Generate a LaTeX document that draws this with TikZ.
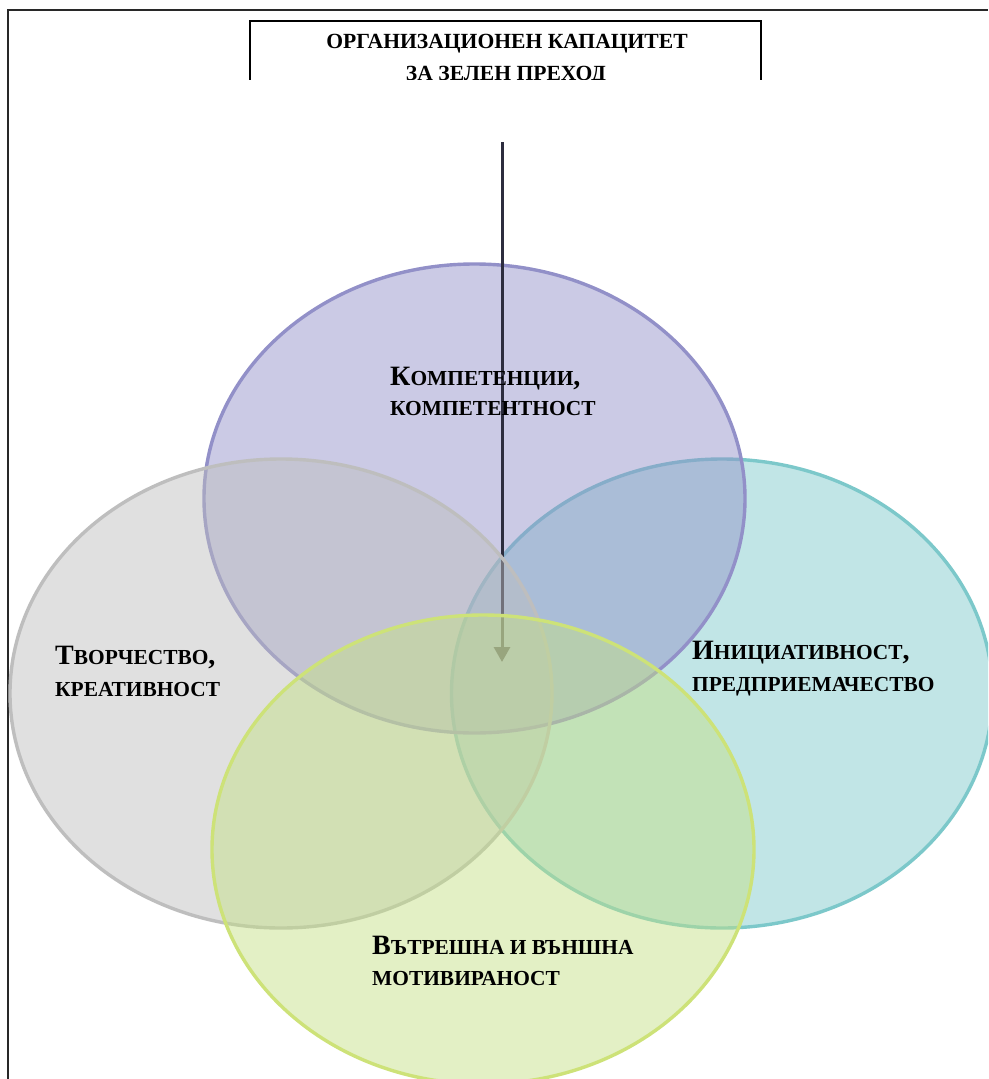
\documentclass[tikz,border=0pt]{standalone}
\usepackage{fontspec}
\setmainfont{Liberation Serif}
\usetikzlibrary{arrows.meta}

% fake small capitals: first letter (and trailing punctuation) full size, the rest smaller
\newcommand\capsc[3]{{\fontsize{28}{30}\selectfont #1}{\fontsize{21.4}{30}\selectfont #2}{\fontsize{28}{30}\selectfont #3}}
\newcommand\smallsc[1]{{\fontsize{21.4}{30}\selectfont #1}}

\definecolor{purpleC}{RGB}{146,144,200}
\definecolor{tealC}{RGB}{124,200,202}
\definecolor{grayC}{RGB}{190,190,190}
\definecolor{greenC}{RGB}{205,226,120}
\definecolor{greenF}{RGB}{196,224,132}
\definecolor{arrowC}{RGB}{45,45,62}
\definecolor{frameC}{RGB}{40,40,40}

\tikzset{
  venn/.style={line width=3.4pt, fill opacity=0.47},
  label/.style={anchor=base west, inner sep=0pt, font=\bfseries},
  titletext/.style={anchor=base, inner sep=0pt, font=\bfseries\fontsize{21.6}{26}\selectfont},
}

\begin{document}
\begin{tikzpicture}[x=1pt,y=-1pt]
  \clip (0,0) rectangle (988,1079);
  \fill[white] (0,0) rectangle (988,1079);

  % page frame (top and left edges)
  \draw[frameC, line width=1.8pt] (8,1079) -- (8,10) -- (988,10);

  % title box, cut off at its lower edge
  \begin{scope}
    \clip (240,0) rectangle (780,79);
    \draw[black, line width=1.8pt] (250,90) -- (250,21) -- (761,21) -- (761,90);
    \node[titletext] (title1) at (507,48) {ОРГАНИЗАЦИОНЕН КАПАЦИТЕТ};
    \node[titletext] (title2) at (506,80.5) {ЗА ЗЕЛЕН ПРЕХОД};
  \end{scope}

  % four overlapping circles
  \draw[venn, draw=tealC, fill=tealC] (722,693.5) ellipse [x radius=270.5pt, y radius=234.5pt];
  \draw[venn, draw=purpleC, fill=purpleC] (474.5,498.5) ellipse [x radius=270.5pt, y radius=234.5pt];

  % arrow down into the centre
  \coordinate (arrowtop) at (502,142);
  \coordinate (arrowtip) at (502,662);
  \draw[arrowC, line width=3pt, -{Triangle[length=15pt,width=16pt]}] (arrowtop) -- (arrowtip);

  \draw[venn, draw=grayC, fill=grayC] (281,693.5) ellipse [x radius=271pt, y radius=234.5pt];
  \draw[venn, draw=greenC, fill=greenF] (483,849.5) ellipse [x radius=271pt, y radius=234.5pt];

  % labels
  \node[label] (comp1) at (390,385) {\capsc{К}{ОМПЕТЕНЦИИ}{,}};
  \node[label] (comp2) at (390,415) {\smallsc{КОМПЕТЕНТНОСТ}};
  \node[label] (creat1) at (55,664) {\capsc{Т}{ВОРЧЕСТВО}{,}};
  \node[label] (creat2) at (55,696) {\smallsc{КРЕАТИВНОСТ}};
  \node[label] (init1) at (692,659) {\capsc{И}{НИЦИАТИВНОСТ}{,}};
  \node[label] (init2) at (692,691) {\smallsc{ПРЕДПРИЕМАЧЕСТВО}};
  \node[label] (motiv1) at (372,954) {\capsc{В}{ЪТРЕШНА И ВЪНШНА}{}};
  \node[label] (motiv2) at (372,985) {\smallsc{МОТИВИРАНОСТ}};
\end{tikzpicture}
\end{document}
